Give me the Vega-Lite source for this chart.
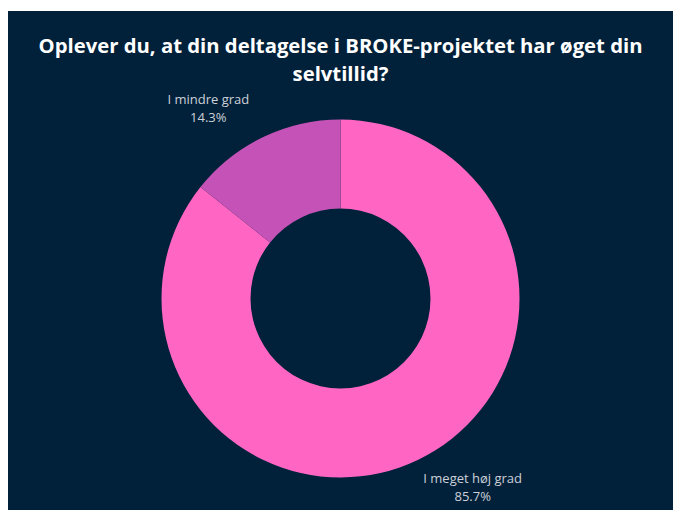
{
  "$schema": "https://vega.github.io/schema/vega-lite/v6.json",
  "background": "white",
  "padding": {"left": 8, "top": 11, "right": 0, "bottom": 0},
  "spacing": 0,
  "config": {
    "view": {"fill": "#01213A", "stroke": null},
    "font": "Open Sans"
  },
  "vconcat": [
    {
      "width": 665,
      "height": 76,
      "view": {"fill": "#01213A", "stroke": null},
      "data": {"values": [{"title": "Oplever du, at din deltagelse i BROKE-projektet har øget din\nselvtillid?"}]},
      "mark": {"type": "text", "font": "Open Sans", "fontWeight": "bold", "fontSize": 20.3, "color": "#FFFFFF", "lineBreak": "\n", "lineHeight": 28, "align": "center", "baseline": "middle", "dy": -2},
      "encoding": {"text": {"field": "title"}}
    },
    {
      "width": 665,
      "height": 423,
      "view": {"fill": "#01213A", "stroke": null},
      "data": {"values": [
        {"category": "I meget høj grad", "value": 85.7, "order": 1},
        {"category": "I mindre grad", "value": 14.3, "order": 2}
      ]},
      "transform": [{"calculate": "datum.category + '\\n' + format(datum.value, '.1f') + '%'", "as": "label"}],
      "encoding": {
        "theta": {"field": "value", "type": "quantitative", "stack": true},
        "order": {"field": "order", "type": "quantitative"}
      },
      "layer": [
        {
          "mark": {"type": "arc", "outerRadius": 179, "innerRadius": 90},
          "encoding": {
            "color": {"field": "category", "type": "nominal", "scale": {"domain": ["I meget høj grad", "I mindre grad"], "range": ["#FF66C4", "#C553B7"]}, "legend": null}
          }
        },
        {
          "mark": {"type": "text", "radius": 231, "thetaOffset": -0.16, "fontSize": 13, "color": "#CDD0D8", "lineBreak": "\n", "lineHeight": 18, "align": "center", "baseline": "middle", "dy": -9},
          "encoding": {"text": {"field": "label"}}
        }
      ]
    }
  ]
}
